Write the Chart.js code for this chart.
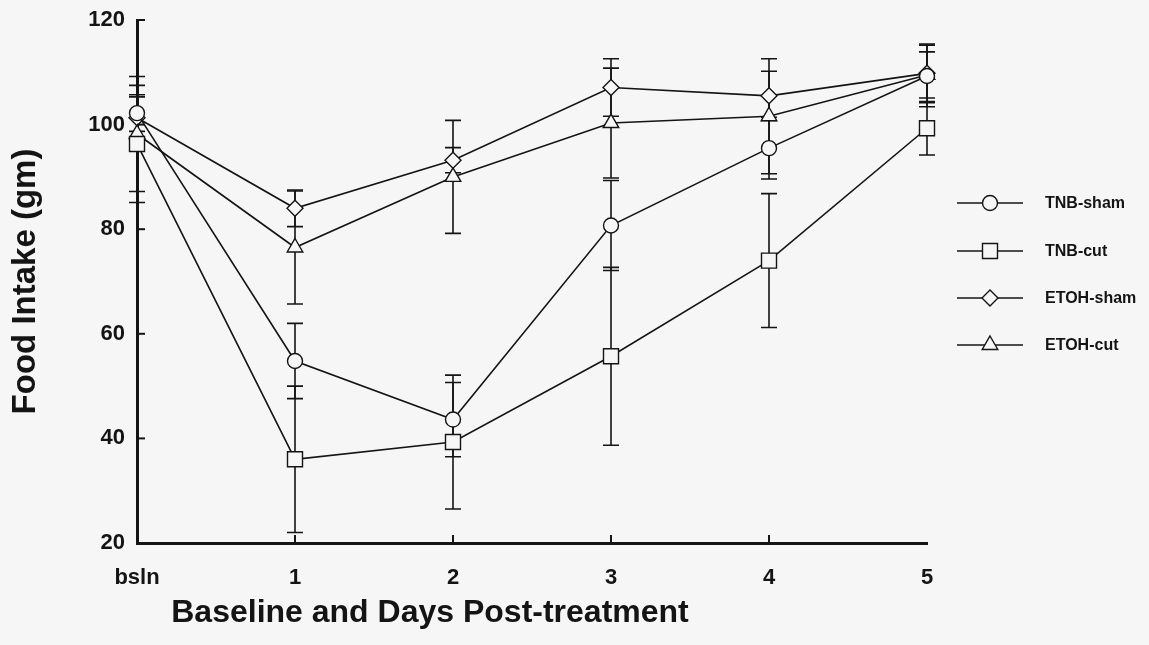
<!DOCTYPE html>
<html>
<head>
<meta charset="utf-8">
<title>Food Intake</title>
<script src="https://cdn.jsdelivr.net/npm/chart.js@4.4.1/dist/chart.umd.min.js"></script>
<style>
  html, body { margin: 0; padding: 0; background: #f6f6f6; }
  #wrap { width: 1149px; height: 645px; }
</style>
</head>
<body>
<div id="wrap"><canvas id="foodChart" width="1149" height="645"></canvas></div>
<script>
// x categories and y ticks
const days = ['bsln', '1', '2', '3', '4', '5'];
const yTicks = [20, 40, 60, 80, 100, 120];

// group means (gm) and error (+/-)
const tnbSham = [102.2, 54.8, 43.6, 80.7, 95.5, 109.3];
const tnbShamErr = [3.5, 7.2, 7.1, 8.6, 5.9, 5.9];
const tnbCut = [96.3, 36.0, 39.3, 55.7, 74.0, 99.3];
const tnbCutErr = [11.2, 14.0, 12.8, 17.0, 12.8, 5.1];
const etohSham = [101.3, 84.0, 93.2, 107.1, 105.5, 109.8];
const etohShamErr = [4.0, 3.5, 2.4, 5.5, 4.7, 5.6];
const etohCut = [98.2, 76.5, 90.0, 100.3, 101.6, 109.5];
const etohCutErr = [11.0, 10.8, 10.8, 10.5, 11.0, 4.4];

const ink = '#141414';
const paper = '#f6f6f6';
const fontFamily = "'Liberation Sans', Arial, Helvetica, sans-serif";

const makeSet = (label, values, errors, pointStyle, radius) => ({
  label: label,
  data: values,
  errors: errors,
  borderColor: ink,
  borderWidth: 1.6,
  pointStyle: pointStyle,
  pointRadius: radius,
  pointBorderColor: ink,
  pointBorderWidth: 1.4,
  pointBackgroundColor: paper,
  tension: 0,
});

// error bars under the markers
const errorBars = {
  id: 'errorBars',
  beforeDatasetsDraw(chart) {
    const ctx = chart.ctx;
    const yScale = chart.scales.y;
    ctx.save();
    ctx.strokeStyle = ink;
    ctx.lineWidth = 1.6;
    chart.data.datasets.forEach((ds, i) => {
      const meta = chart.getDatasetMeta(i);
      meta.data.forEach((pt, j) => {
        const top = yScale.getPixelForValue(ds.data[j] + ds.errors[j]);
        const bot = yScale.getPixelForValue(ds.data[j] - ds.errors[j]);
        ctx.beginPath();
        ctx.moveTo(pt.x, top);
        ctx.lineTo(pt.x, bot);
        ctx.moveTo(pt.x - 8, top);
        ctx.lineTo(pt.x + 8, top);
        ctx.moveTo(pt.x - 8, bot);
        ctx.lineTo(pt.x + 8, bot);
        ctx.stroke();
      });
    });
    ctx.restore();
  }
};

// inward tick marks, x title and the legend on the right
const decorations = {
  id: 'decorations',
  afterDraw(chart) {
    const ctx = chart.ctx;
    const {x: xScale, y: yScale} = chart.scales;
    const area = chart.chartArea;
    ctx.save();
    ctx.strokeStyle = ink;
    ctx.lineWidth = 2;
    yTicks.slice(1).forEach((v) => {
      const y = yScale.getPixelForValue(v);
      ctx.beginPath();
      ctx.moveTo(area.left, y);
      ctx.lineTo(area.left + 8, y);
      ctx.stroke();
    });
    days.slice(1, -1).forEach((d, i) => {
      const x = xScale.getPixelForValue(i + 1);
      ctx.beginPath();
      ctx.moveTo(x, area.bottom);
      ctx.lineTo(x, area.bottom - 8);
      ctx.stroke();
    });

    ctx.fillStyle = ink;
    ctx.font = 'bold 32px ' + fontFamily;
    ctx.textAlign = 'center';
    ctx.textBaseline = 'middle';
    ctx.fillText('Baseline and Days Post-treatment', 430, 613);

    // legend
    const rowY = [203, 251, 298, 345];
    ctx.font = 'bold 16px ' + fontFamily;
    ctx.textAlign = 'left';
    chart.data.datasets.forEach((ds, i) => {
      const y = rowY[i];
      ctx.strokeStyle = ink;
      ctx.lineWidth = 1.4;
      ctx.beginPath();
      ctx.moveTo(957, y);
      ctx.lineTo(1023, y);
      ctx.stroke();
      ctx.fillStyle = paper;
      ctx.lineWidth = 1.4;
      Chart.helpers.drawPoint(ctx, {
        pointStyle: ds.pointStyle, radius: ds.pointRadius, rotation: 0, borderWidth: 1.4
      }, 990, y);
      ctx.fillStyle = ink;
      ctx.fillText(ds.label, 1045, y + 1);
    });
    ctx.restore();
  }
};

const ctx = document.getElementById('foodChart').getContext('2d');
new Chart(ctx, {
  type: 'line',
  data: {
    labels: days,
    datasets: [
      makeSet('TNB-sham', tnbSham, tnbShamErr, 'circle', 7.5),
      makeSet('TNB-cut', tnbCut, tnbCutErr, 'rect', 10.6),
      makeSet('ETOH-sham', etohSham, etohShamErr, 'rectRot', 8),
      makeSet('ETOH-cut', etohCut, etohCutErr, 'triangle', 9),
    ],
  },
  options: {
    responsive: false,
    animation: false,
    layout: {
      padding: { left: 0, top: 20, right: 222, bottom: 0 },
    },
    plugins: {
      legend: { display: false },
      tooltip: { enabled: false },
    },
    scales: {
      x: {
        type: 'category',
        offset: false,
        grid: { display: false },
        border: { display: true, width: 3, color: ink },
        ticks: {
          color: ink,
          padding: 14,
          maxRotation: 0,
          autoSkip: false,
          font: { family: fontFamily, size: 22, weight: 'bold' },
        },
        afterFit: (scale) => { scale.height = 102; },
      },
      y: {
        min: 20,
        max: 120,
        grid: { display: false },
        border: { display: true, width: 3, color: ink },
        ticks: {
          stepSize: 20,
          color: ink,
          padding: 4,
          font: { family: fontFamily, size: 22, weight: 'bold' },
        },
        title: {
          display: true,
          text: 'Food Intake (gm)',
          color: ink,
          padding: { top: 6, bottom: 0 },
          font: { family: fontFamily, size: 33, weight: 'bold' },
        },
        afterFit: (scale) => { scale.width = 137; },
      },
    },
  },
  plugins: [errorBars, decorations],
});
</script>
</body>
</html>
